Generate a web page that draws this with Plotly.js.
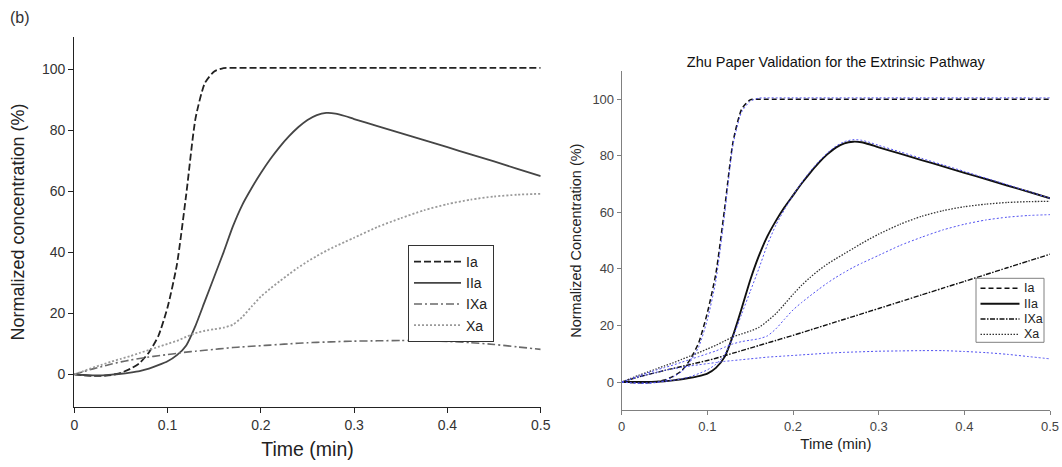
<!DOCTYPE html>
<html>
<head>
<meta charset="utf-8">
<script src="https://cdn.plot.ly/plotly-3.0.1.min.js"></script>
<style>html,body{margin:0;padding:0;background:#fff;}#chart{width:1062px;height:467px;}</style>
</head>
<body>
<div id="chart"></div>
<script>
// Time points (min)
const time = [0, 0.01, 0.02, 0.03, 0.04, 0.05, 0.06, 0.07, 0.08, 0.09, 0.10, 0.11, 0.12, 0.13, 0.14, 0.15, 0.16, 0.17, 0.18, 0.19,
              0.20, 0.21, 0.22, 0.23, 0.24, 0.25, 0.26, 0.27, 0.28, 0.29, 0.30,
              0.325, 0.35, 0.375, 0.40, 0.425, 0.45, 0.475, 0.50];

// Series names
const seriesNames = ["Ia", "IIa", "IXa", "Xa"];

// Paper (Zhu) values: left panel, and the blue curves on the right panel
const paperIa  = [0, -0.3, -0.5, -0.5, -0.2, 0.5, 1.8, 3.7, 7.2, 12.5, 22, 36, 59, 84, 95.5, 99.3, 100.4, 100.5, 100.5, 100.5,
                  100.5, 100.5, 100.5, 100.5, 100.5, 100.5, 100.5, 100.5, 100.5, 100.5, 100.5,
                  100.5, 100.5, 100.5, 100.5, 100.5, 100.5, 100.5, 100.5];
const paperIIa = [0, -0.2, -0.3, -0.3, -0.1, 0.2, 0.6, 1.1, 1.9, 3, 4.3, 6.3, 9.5, 16, 24, 32, 40, 48.5, 55.5, 61,
                  66, 70.5, 74.5, 78, 81, 83.4, 85, 85.7, 85.5, 84.7, 83.7,
                  81.4, 79.1, 76.8, 74.5, 72.1, 69.8, 67.4, 65];
const paperIXa = [0, 0.9, 1.8, 2.6, 3.4, 4.1, 4.7, 5.2, 5.7, 6.1, 6.5, 6.9, 7.3, 7.6, 7.9, 8.2, 8.5, 8.8, 9.0, 9.2,
                  9.4, 9.6, 9.8, 10.0, 10.2, 10.35, 10.5, 10.6, 10.7, 10.8, 10.9,
                  11.0, 11.1, 11.1, 10.8, 10.4, 9.8, 9.0, 8.2];
const paperXa  = [0, 1.1, 2.2, 3.2, 4.2, 5.1, 6, 7, 8, 9, 10, 11, 12.3, 13.5, 14.3, 14.8, 15.3, 16.3, 18.8, 22.2,
                  25.5, 28.1, 30.5, 32.8, 35, 37, 38.8, 40.5, 42, 43.4, 44.8,
                  48.3, 51.2, 53.8, 55.8, 57.3, 58.3, 58.9, 59.2];

// Model values (black curves, right panel)
const modelIa  = [0, -0.2, -0.3, -0.3, 0, 0.7, 2, 4, 8, 14, 24.5, 38.5, 61, 85, 96.5, 99.8, 100, 100, 100, 100,
                  100, 100, 100, 100, 100, 100, 100, 100, 100, 100, 100,
                  100, 100, 100, 100, 100, 100, 100, 100];
const modelIIa = [0, 0, 0, 0, 0.1, 0.3, 0.6, 1, 1.5, 2.1, 3, 5, 8.8, 16.5, 26, 36, 44.5, 51.5, 57, 61.8,
                  66, 70.2, 74, 77.5, 80.5, 82.9, 84.4, 85, 84.8, 84, 83,
                  80.8, 78.5, 76.3, 74, 71.8, 69.5, 67.3, 65];
const modelIXa = [0, 0.9, 1.8, 2.6, 3.3, 4.1, 4.8, 5.5, 6.2, 6.9, 7.6, 8.4, 9.3, 10.2, 11.1, 12, 12.9, 13.8, 14.7, 15.6,
                  16.5, 17.45, 18.4, 19.35, 20.3, 21.25, 22.2, 23.15, 24.1, 25.05, 26,
                  28.4, 30.8, 33.2, 35.6, 38, 40.4, 42.8, 45.2];
const modelXa  = [0, 1.2, 2.4, 3.5, 4.6, 5.7, 6.8, 8, 9.2, 10.4, 11.7, 13, 14.5, 16, 17, 18, 19.3, 21.5, 24.2, 27.5,
                  31, 34.2, 37, 39.5, 41.7, 43.6, 45.4, 47.2, 49, 50.7, 52.3,
                  55.8, 58.6, 60.6, 62, 62.9, 63.5, 63.8, 63.9];

// Tick labels
const xTicks = [0, 0.1, 0.2, 0.3, 0.4, 0.5];
const xTickText = ["0", "0.1", "0.2", "0.3", "0.4", "0.5"];
const yTicks = [0, 20, 40, 60, 80, 100];
const yTickText = ["0", "20", "40", "60", "80", "100"];

const FONT = "Liberation Sans, Arial, Helvetica, sans-serif";
const W = 1062, H = 467;
const px = v => v / W;
const py = v => 1 - v / H;

const leftStyles = [
  {color: "#222", width: 1.8, dash: "7px,3px"},
  {color: "#454545", width: 1.8, dash: "solid"},
  {color: "#6a6a6a", width: 1.6, dash: "8px,3px,2px,3px"},
  {color: "#9a9a9a", width: 1.8, dash: "2px,2px"}
];
const rightStyles = [
  {color: "#111", width: 1.5, dash: "5px,3px"},
  {color: "#111", width: 1.9, dash: "solid"},
  {color: "#111", width: 1.4, dash: "5px,1.5px,1.5px,1.5px"},
  {color: "#333", width: 1.3, dash: "1.5px,1.5px"}
];
const paperData = [paperIa, paperIIa, paperIXa, paperXa];
const modelData = [modelIa, modelIIa, modelIXa, modelXa];

const traces = [];
seriesNames.forEach((n, i) => {
  traces.push({x: time, y: paperData[i], name: n, type: "scatter", mode: "lines",
    line: Object.assign({shape: "spline", smoothing: 0.6}, leftStyles[i]),
    xaxis: "x", yaxis: "y", legend: "legend", hoverinfo: "skip"});
});
seriesNames.forEach((n, i) => {
  traces.push({x: time, y: modelData[i], name: n, type: "scatter", mode: "lines",
    line: Object.assign({shape: "spline", smoothing: 0.6}, rightStyles[i]),
    xaxis: "x2", yaxis: "y2", showlegend: false, hoverinfo: "skip"});
});
seriesNames.forEach((n, i) => {
  traces.push({x: time, y: paperData[i], name: n + " (paper)", type: "scatter", mode: "lines",
    line: {color: "#5050f0", width: 1, dash: "2px,2px", shape: "spline", smoothing: 0.6},
    xaxis: "x2", yaxis: "y2", showlegend: false, hoverinfo: "skip"});
});

// Right-panel legend (compact, drawn as a box with line samples)
const shapes = [];
const annotations = [
  {text: "(b)", x: px(8), y: py(18), xref: "paper", yref: "paper", xanchor: "left", yanchor: "middle",
    showarrow: false, font: {family: FONT, size: 16, color: "#333"}}
];
const lg = {x0: 976, x1: 1044, y0: 278.3, y1: 342.3, lx0: 980.5, lx1: 1019.5, tx: 1022, rows: [288.3, 303.7, 319, 334.3]};
shapes.push({type: "rect", xref: "paper", yref: "paper", x0: px(lg.x0), x1: px(lg.x1), y0: py(lg.y1), y1: py(lg.y0),
  fillcolor: "#fff", line: {color: "#808080", width: 1}, layer: "above"});
seriesNames.forEach((n, i) => {
  shapes.push({type: "line", xref: "paper", yref: "paper", x0: px(lg.lx0), x1: px(lg.lx1), y0: py(lg.rows[i]), y1: py(lg.rows[i]),
    line: {color: rightStyles[i].color, width: rightStyles[i].width, dash: rightStyles[i].dash}, layer: "above"});
  annotations.push({text: n, x: px(lg.tx), y: py(lg.rows[i]), xref: "paper", yref: "paper", xanchor: "left", yanchor: "middle",
    showarrow: false, font: {family: FONT, size: 12.5, color: "#222"}});
});

const leftAxisCommon = {showgrid: false, zeroline: false, showline: true, linecolor: "#222", linewidth: 1.2,
  ticks: "outside", ticklen: 5, tickcolor: "#222", tickfont: {family: FONT, size: 14, color: "#333"}};
const rightAxisCommon = {showgrid: false, zeroline: false, showline: true, linecolor: "#808080", linewidth: 1,
  ticks: "outside", ticklen: 4, tickcolor: "#808080", tickfont: {family: FONT, size: 13, color: "#444"}};

const layout = {
  width: W, height: H,
  margin: {l: 0, r: 0, t: 0, b: 0},
  paper_bgcolor: "#fff", plot_bgcolor: "#fff",
  font: {family: FONT},
  showlegend: true,
  title: {text: "Zhu Paper Validation for the Extrinsic Pathway", font: {family: FONT, size: 14.5, color: "#111"},
    x: px(835.8), xanchor: "center", xref: "paper", y: py(61.7), yanchor: "middle", yref: "paper"},
  xaxis: Object.assign({}, leftAxisCommon, {domain: [px(74.3), px(540.7)], range: [0, 0.5],
    tickvals: xTicks, ticktext: xTickText, anchor: "y",
    title: {text: "Time (min)", font: {family: FONT, size: 19.5, color: "#222"}, standoff: 10}}),
  yaxis: Object.assign({}, leftAxisCommon, {domain: [1 - 406.7 / H, 1 - 37.3 / H], range: [-10.6, 110.5],
    tickvals: yTicks, ticktext: yTickText, anchor: "x",
    title: {text: "Normalized concentration (%)", font: {family: FONT, size: 18, color: "#222"}, standoff: 12}}),
  xaxis2: Object.assign({}, rightAxisCommon, {domain: [px(621.7), px(1050)], range: [0, 0.5],
    tickvals: xTicks, ticktext: xTickText, anchor: "y2",
    title: {text: "Time (min)", font: {family: FONT, size: 15, color: "#222"}, standoff: 5}}),
  yaxis2: Object.assign({}, rightAxisCommon, {domain: [1 - 410.3 / H, 1 - 71 / H], range: [-10, 110],
    tickvals: yTicks, ticktext: yTickText, anchor: "x2",
    title: {text: "Normalized Concentration (%)", font: {family: FONT, size: 14.5, color: "#222"}, standoff: 7}}),
  legend: {x: px(408), y: py(245), xanchor: "left", yanchor: "top", bgcolor: "#fff",
    bordercolor: "#333", borderwidth: 1, font: {family: FONT, size: 14, color: "#222"},
    tracegroupgap: 0, itemwidth: 47},
  shapes: shapes,
  annotations: annotations
};

Plotly.newPlot("chart", traces, layout, {displayModeBar: false, staticPlot: true});
</script>
</body>
</html>
